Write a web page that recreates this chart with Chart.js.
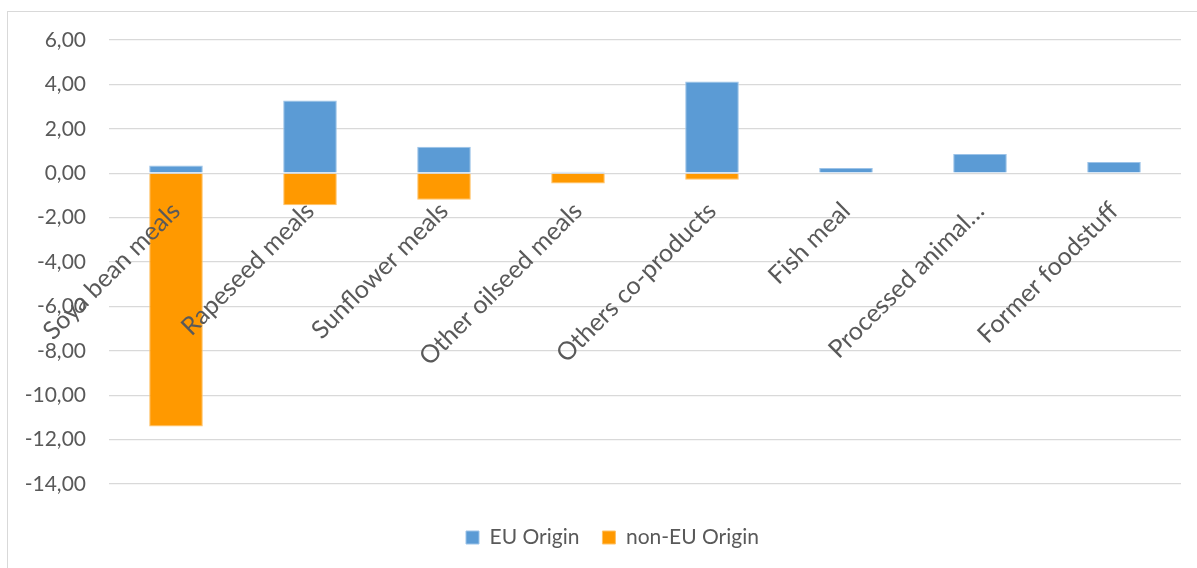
<!DOCTYPE html>
<html><head><meta charset="utf-8">
<script src="https://cdn.jsdelivr.net/npm/chart.js@4/dist/chart.umd.min.js"></script>
<style>
html,body{margin:0;padding:0;background:#fff;overflow:hidden;width:1197px;height:568px}
#frame{position:absolute;left:7px;top:11px;width:1300px;height:700px;border:1px solid #d9d9d9;box-sizing:border-box}
#wrap{position:absolute;left:0;top:0;width:1197px;height:568px}
</style></head><body>
<div id="frame"></div>
<div id="wrap"><canvas id="c" width="1197" height="568"></canvas></div>
<script>
const categories = ["Soya bean meals", "Rapeseed meals", "Sunflower meals", "Other oilseed meals", "Others co-products", "Fish meal", "Processed animal…", "Former foodstuff"];
const euOrigin = [0.35, 3.27, 1.19, 0.06, 4.13, 0.23, 0.86, 0.50];
const nonEuOrigin = [-11.41, -1.44, -1.20, -0.46, -0.30, -0.03, -0.02, 0];
const seriesNames = ["EU Origin", "non-EU Origin"];
const yTickValues = [6, 4, 2, 0, -2, -4, -6, -8, -10, -12, -14];

const legendPlace = {
  id: 'legendPlace',
  afterLayout(chart) {
    const lg = chart.legend;
    if (!lg) return;
    const pad = lg.options.labels.padding;
    const w = lg.right - lg.left;
    lg.left = 466 - pad; lg.right = lg.left + w;
    const h = lg.bottom - lg.top;
    lg.top = 527 - pad; lg.bottom = lg.top + h;
  }
};

new Chart(document.getElementById('c'), {
  type: 'bar',
  data: {
    labels: categories,
    datasets: [
      { label: seriesNames[0], data: euOrigin, backgroundColor: '#5b9bd5', borderColor: '#9cc3e8', borderWidth: 1, borderSkipped: 'start' },
      { label: seriesNames[1], data: nonEuOrigin, backgroundColor: '#ff9900', borderColor: '#ffc266', borderWidth: 1, borderSkipped: 'start' }
    ]
  },
  options: {
    responsive: false,
    animation: false,
    devicePixelRatio: 1,
    layout: { padding: { left: 0, right: 16, top: 40, bottom: 30 } },
    datasets: { bar: { barPercentage: 0.4, categoryPercentage: 1 } },
    scales: {
      y: {
        stacked: true,
        min: -14, max: 6,
        afterBuildTicks: s => { s.ticks = yTickValues.map(v => ({ value: v })); },
        afterFit: s => { s.width = 109; },
        ticks: {
          callback: v => Number(v).toFixed(2).replace('.', ','),
          color: '#595959', font: { family: 'Lato', size: 21 }, padding: 23
        },
        grid: { color: '#d9d9d9', lineWidth: 1.3, drawTicks: false },
        border: { display: false }
      },
      x: {
        stacked: true,
        position: { y: 0 },
        grid: { display: false },
        border: { display: false },
        ticks: {
          z: 1,
          autoSkip: false, maxRotation: 45, minRotation: 45,
          color: '#595959', font: { family: 'Lato', size: 25 }, padding: 15
        }
      }
    },
    plugins: {
      legend: {
        position: 'bottom', align: 'start',
        labels: { color: '#595959', font: { family: 'Lato', size: 21 }, boxWidth: 13, boxHeight: 13, padding: 23 }
      },
      tooltip: { enabled: false }
    }
  },
  plugins: [legendPlace]
});
</script>
</body></html>
